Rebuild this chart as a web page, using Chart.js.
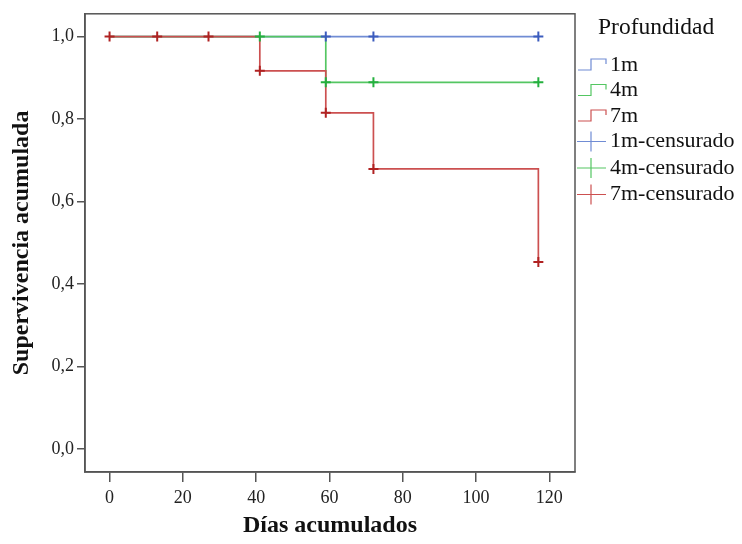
<!DOCTYPE html>
<html>
<head>
<meta charset="utf-8">
<script src="https://cdn.jsdelivr.net/npm/chart.js@4/dist/chart.umd.min.js"></script>
<style>
  html, body { margin: 0; padding: 0; background: #fff; }
  #wrap { width: 742px; height: 544px; }
</style>
</head>
<body>
<div id="wrap"><canvas id="km" width="742" height="544"></canvas></div>
<script>
// curvas de Kaplan-Meier por profundidad
const grupos = ['1m', '4m', '7m'];
const tiempo1m = [0, 117];
const sup1m = [1, 1];
const tiempo4m = [0, 59, 117];
const sup4m = [1, 0.889, 0.889];
const tiempo7m = [0, 41, 59, 72, 117];
const sup7m = [1, 0.917, 0.815, 0.679, 0.453];

// observaciones censuradas
const cens1mT = [59, 72, 117];
const cens1mS = [1, 1, 1];
const cens4mT = [41, 59, 72, 117];
const cens4mS = [1, 0.889, 0.889, 0.889];
const cens7mT = [0, 13, 27, 41, 59, 72, 117];
const cens7mS = [1, 1, 1, 0.917, 0.815, 0.679, 0.453];

const xTicks = [0, 20, 40, 60, 80, 100, 120];
const yTicks = [0, 0.2, 0.4, 0.6, 0.8, 1.0];
const yTickLabels = ['0,0', '0,2', '0,4', '0,6', '0,8', '1,0'];

const serif = "'Liberation Serif', 'Times New Roman', serif";
const lineCol = { '1m': 'rgb(112,140,212)', '4m': 'rgb(84,198,98)', '7m': 'rgb(204,80,80)' };
const crossCol = { '1m': 'rgb(60,92,190)', '4m': 'rgb(36,176,62)', '7m': 'rgb(176,34,34)' };

function pts(t, s) {
    return t.map((v, i) => ({ x: v, y: s[i] }));
}

function curva(g, t, s, ord) {
    return {
        label: g, data: pts(t, s), stepped: 'before',
        borderColor: lineCol[g], borderWidth: 1.7, pointRadius: 0,
        fill: false, order: ord
    };
}

function censura(g, t, s, ord) {
    return {
        label: g + '-censurado', data: pts(t, s), showLine: false,
        pointStyle: 'cross', pointRadius: 5, pointBorderWidth: 2,
        pointBorderColor: crossCol[g], pointBackgroundColor: crossCol[g],
        order: ord
    };
}

// marco completo del area de trazado
const marco = {
    id: 'marco',
    beforeDatasetsDraw(chart) {
        const a = chart.chartArea, ctx = chart.ctx;
        ctx.save();
        ctx.strokeStyle = '#555';
        ctx.lineWidth = 1.5;
        ctx.strokeRect(a.left, a.top, a.right - a.left, a.bottom - a.top);
        ctx.restore();
    }
};

// leyenda estilo SPSS
const leyenda = {
    id: 'leyenda',
    afterDraw(chart) {
        const ctx = chart.ctx;
        ctx.save();
        ctx.fillStyle = '#111';
        ctx.textBaseline = 'middle';
        ctx.font = '23.5px ' + serif;
        ctx.fillText('Profundidad', 598, 28);
        ctx.font = '22px ' + serif;
        let y = 65;
        grupos.forEach(g => {
            ctx.strokeStyle = lineCol[g];
            ctx.lineWidth = 1.2;
            ctx.beginPath();
            ctx.moveTo(578, y + 5);
            ctx.lineTo(591, y + 5);
            ctx.lineTo(591, y - 6);
            ctx.lineTo(606, y - 6);
            ctx.lineTo(606, y - 1);
            ctx.stroke();
            ctx.fillText(g, 610, y);
            y += 25.5;
        });
        grupos.forEach(g => {
            ctx.strokeStyle = lineCol[g];
            ctx.lineWidth = 1.2;
            ctx.beginPath();
            ctx.moveTo(577, y);
            ctx.lineTo(606, y);
            ctx.moveTo(591, y - 10);
            ctx.lineTo(591, y + 10);
            ctx.stroke();
            ctx.fillText(g + '-censurado', 610, y);
            y += 26.5;
        });
        ctx.restore();
    }
};

new Chart(document.getElementById('km'), {
    type: 'line',
    data: {
        datasets: [
            censura('7m', cens7mT, cens7mS, 0),
            censura('4m', cens4mT, cens4mS, 1),
            censura('1m', cens1mT, cens1mS, 2),
            curva('7m', tiempo7m, sup7m, 3),
            curva('4m', tiempo4m, sup4m, 4),
            curva('1m', tiempo1m, sup1m, 5)
        ]
    },
    options: {
        responsive: false,
        animation: false,
        devicePixelRatio: 1,
        layout: { padding: { left: 0, top: 9, right: 167, bottom: 0 } },
        plugins: { legend: { display: false }, tooltip: { enabled: false } },
        scales: {
            x: {
                type: 'linear', min: -6.7, max: 127,
                afterBuildTicks: s => { s.ticks = xTicks.map(v => ({ value: v })); },
                afterFit: s => { s.height = 72; },
                ticks: { color: '#222', font: { family: serif, size: 18 }, padding: 5, maxRotation: 0 },
                grid: { drawOnChartArea: false, drawTicks: true, tickLength: 10, color: '#555', lineWidth: 1.5 },
                border: { color: '#555', width: 1.5 },
                title: {
                    display: true, text: 'Días acumulados', color: '#111',
                    font: { family: serif, size: 24, weight: 'bold' },
                    padding: { top: 0, bottom: 4 }
                }
            },
            y: {
                type: 'linear', min: -0.0563, max: 1.0553,
                afterBuildTicks: s => { s.ticks = yTicks.map(v => ({ value: v })); },
                afterFit: s => { s.width = 85; },
                ticks: {
                    color: '#222', font: { family: serif, size: 18 }, padding: 3,
                    callback: (v, i) => yTickLabels[i]
                },
                grid: { drawOnChartArea: false, drawTicks: true, tickLength: 8, color: '#555', lineWidth: 1.5 },
                border: { color: '#555', width: 1.5 },
                title: {
                    display: true, text: 'Supervivencia acumulada', color: '#111',
                    font: { family: serif, size: 24, weight: 'bold' },
                    padding: { top: 7, bottom: 0 }
                }
            }
        }
    },
    plugins: [marco, leyenda]
});
</script>
</body>
</html>
